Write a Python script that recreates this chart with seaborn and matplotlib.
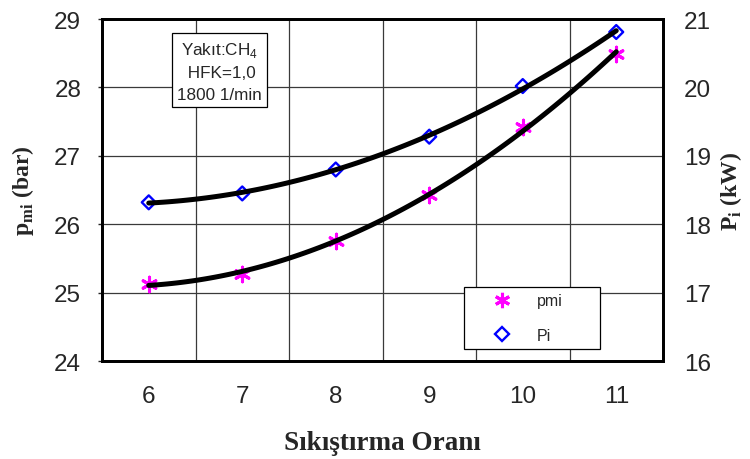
import numpy as np
import pandas as pd
import matplotlib
matplotlib.use("Agg")
import matplotlib.pyplot as plt
from matplotlib.lines import Line2D
import seaborn as sns

# ---- data ----
ratio = [6, 7, 8, 9, 10, 11]
pmi = [25.13, 25.27, 25.76, 26.42, 27.42, 28.49]
Pi = [18.32, 18.45, 18.80, 19.28, 20.02, 20.81]
left_ticks = [24, 25, 26, 27, 28, 29]
right_ticks = [16, 17, 18, 19, 20, 21]
x_labels = ["6", "7", "8", "9", "10", "11"]

df = pd.DataFrame({"ratio": ratio, "pmi": pmi, "Pi": Pi})

sns.set_style("white")
plt.rcParams["font.family"] = ["Liberation Sans", "DejaVu Sans"]
plt.rcParams["mathtext.fontset"] = "custom"
plt.rcParams["mathtext.rm"] = "Liberation Sans"
plt.rcParams["mathtext.bf"] = "Liberation Serif:bold"

fig = plt.figure(figsize=(7.5, 4.6), dpi=100)
ax = fig.add_axes([0.136, 0.213, 0.748, 0.7435])
ax2 = ax.twinx()

magenta = "#FF00FF"
blue = "#0000FF"
star = (6, 2, 0)

# markers
sns.scatterplot(data=df, x="ratio", y="pmi", ax=ax, marker=star, s=110,
                color=magenta, edgecolor=magenta, linewidth=2.2, zorder=3)
sns.scatterplot(data=df, x="ratio", y="Pi", ax=ax2, marker="D", s=50,
                facecolor="none", edgecolor=blue, linewidth=1.7, zorder=3)
# polynomial trendlines
sns.regplot(data=df, x="ratio", y="pmi", ax=ax, order=2, ci=None, scatter=False,
            truncate=True, line_kws=dict(color="black", lw=3.6, zorder=4))
sns.regplot(data=df, x="ratio", y="Pi", ax=ax2, order=2, ci=None, scatter=False,
            truncate=True, line_kws=dict(color="black", lw=3.6, zorder=4))

ax.set_xlim(5.5, 11.5)
ax.set_ylim(24, 29)
ax2.set_ylim(16, 21)

# category-style x axis: labels at integers, gridlines between
ax.set_xticks([6.5, 7.5, 8.5, 9.5, 10.5])
ax.set_xticklabels([])
ax.set_xticks(ratio, minor=True)
ax.set_xticklabels(x_labels, minor=True)
ax.tick_params(axis="x", which="minor", length=0, pad=17, labelsize=17.5)
ax.tick_params(axis="x", which="major", length=4, direction="in", width=1)

ax.set_yticks(left_ticks)
ax.set_yticklabels([str(t) for t in left_ticks])
ax.tick_params(axis="y", length=3, direction="out", width=1, labelsize=17.5, pad=12)
ax2.set_yticks(right_ticks)
ax2.set_yticklabels([str(t) for t in right_ticks])
ax2.tick_params(axis="y", length=0, labelsize=17.5, pad=15)

ax.grid(True, which="major", color="#3a3a3a", linewidth=0.9)
ax2.grid(False)
ax.set_axisbelow(True)

for a in (ax, ax2):
    for sp in a.spines.values():
        sp.set_visible(True)
        sp.set_color("black")
        sp.set_linewidth(2.0)

ax.set_xlabel("Sıkıştırma Oranı", family="Liberation Serif", weight="bold", size=19.5)
ax.xaxis.set_label_coords(0.5, -0.237)
ax.xaxis.label.set_va("center")
ax.set_ylabel(r"p$_{\mathbf{mi}}$ (bar)", family="Liberation Serif", weight="bold", size=17)
ax.yaxis.set_label_coords(-0.14, 0.5)
ax.yaxis.label.set_va("center")
ax2.set_ylabel(r"P$_{\mathbf{i}}$ (kW)", family="Liberation Serif", weight="bold", size=17)
ax2.yaxis.set_label_coords(1.122, 0.5)
ax2.yaxis.label.set_va("center")

ax.text(0.2086, 0.848, "Yakıt:CH$_{\\mathrm{4}}$\n HFK=1,0\n1800 1/min",
        transform=ax.transAxes, ha="center", va="center", fontsize=12.3,
        linespacing=1.55, zorder=5,
        bbox=dict(boxstyle="square,pad=0.3", facecolor="white", edgecolor="black", linewidth=0.9))

handles = [
    Line2D([], [], linestyle="none", marker=star, markersize=11, color=magenta,
           markeredgecolor=magenta, markeredgewidth=2.2),
    Line2D([], [], linestyle="none", marker="D", markersize=7, markerfacecolor="none",
           markeredgecolor=blue, markeredgewidth=1.7),
]
leg = ax2.legend(handles, ["pmi", "Pi"], loc="lower left",
                 bbox_to_anchor=(0.645, 0.035, 0.243, 0.19), mode="expand",
                 fontsize=11.5, frameon=True, fancybox=False, framealpha=1,
                 edgecolor="black", labelspacing=1.2, handletextpad=0.15,
                 borderpad=0.4, borderaxespad=0, handlelength=4.0)
leg.get_frame().set_linewidth(0.9)
leg.set_zorder(10)

fig.savefig("out.png", dpi=100)
